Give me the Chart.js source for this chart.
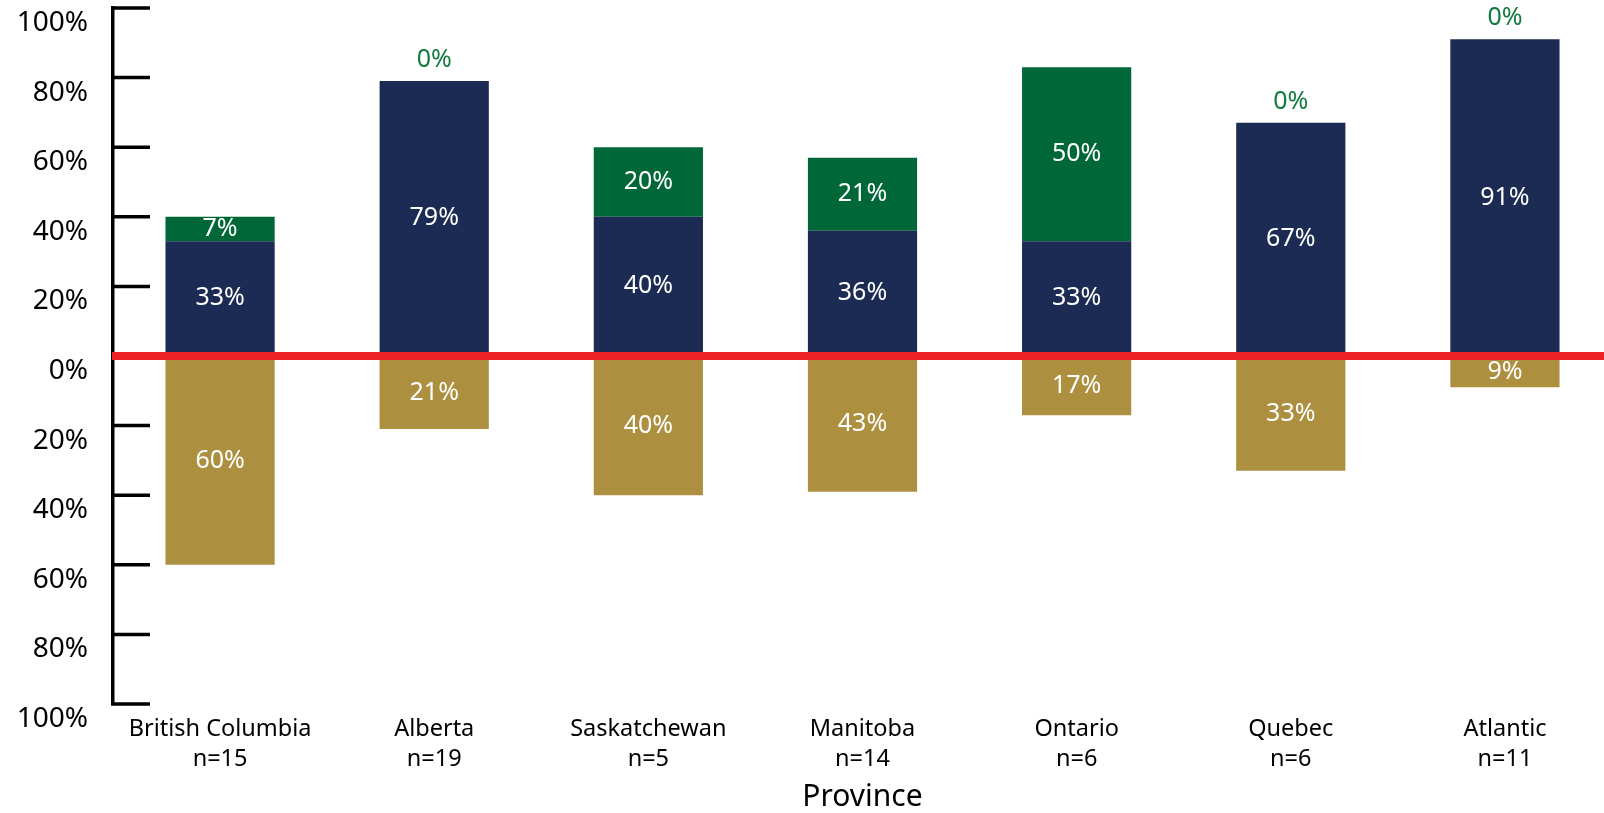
<!DOCTYPE html>
<html>
<head>
<meta charset="utf-8">
<script src="https://cdn.jsdelivr.net/npm/chart.js@4.4.0/dist/chart.umd.min.js"></script>
<style>
  html, body { margin: 0; padding: 0; background: #fff; overflow: hidden; }
  #wrap { width: 1604px; height: 813px; overflow: hidden; position: relative; }
  #box { width: 1612px; height: 813px; }
</style>
</head>
<body>
<div id="wrap"><div id="box"><canvas id="chart"></canvas></div></div>
<script>
  // Provincias y tamaño de muestra
  const provincias = ['British Columbia', 'Alberta', 'Saskatchewan', 'Manitoba', 'Ontario', 'Quebec', 'Atlantic'];
  const muestras = ['n=15', 'n=19', 'n=5', 'n=14', 'n=6', 'n=6', 'n=11'];

  // Valores de cada serie (en %)
  const azul = [33, 79, 40, 36, 33, 67, 91];
  const verde = [7, 0, 20, 21, 50, 0, 0];
  const dorado = [-60, -21, -40, -39, -17, -33, -9];
  const doradoTexto = ['60%', '21%', '40%', '43%', '17%', '33%', '9%'];

  const ticksY = [-100, -80, -60, -40, -20, 0, 20, 40, 60, 80, 100];

  const colorAzul = '#1b2b53';
  const colorVerde = '#006838';
  const colorDorado = '#ad8f40';

  // Etiquetas dentro de las barras
  const etiquetas = {
    id: 'etiquetas',
    afterDatasetsDraw(chart) {
      const ctx = chart.ctx;
      ctx.save();
      ctx.textAlign = 'center';
      ctx.textBaseline = 'middle';
      ctx.font = '25px "Noto Sans"';
      chart.data.datasets.forEach((ds, i) => {
        const meta = chart.getDatasetMeta(i);
        meta.data.forEach((bar, j) => {
          const v = ds.data[j];
          let texto = ds.textos ? ds.textos[j] : Math.abs(v) + '%';
          if (v === 0) {
            ctx.fillStyle = '#127a3e';
            ctx.fillText(texto, bar.x, bar.y - 21);
          } else {
            ctx.fillStyle = '#ffffff';
            ctx.fillText(texto, bar.x, (bar.y + bar.base) / 2);
          }
        });
      });
      ctx.restore();
    }
  };

  // Línea roja en cero y marcas del eje hacia dentro
  const ejes = {
    id: 'ejes',
    afterDatasetsDraw(chart) {
      const ctx = chart.ctx;
      const y = chart.scales.y;
      const area = chart.chartArea;
      ctx.save();
      ctx.strokeStyle = '#000';
      ctx.lineWidth = 3.5;
      y.ticks.forEach((t, i) => {
        if (t.value === 0) return;
        const py = y.getPixelForTick(i);
        ctx.beginPath();
        ctx.moveTo(area.left - 2, py);
        ctx.lineTo(area.left + 37, py);
        ctx.stroke();
      });
      const y0 = y.getPixelForValue(0);
      ctx.strokeStyle = '#ed2227';
      ctx.lineWidth = 8;
      ctx.beginPath();
      ctx.moveTo(area.left - 1, y0);
      ctx.lineTo(chart.width, y0);
      ctx.stroke();
      ctx.restore();
    }
  };

  const ctx = document.getElementById('chart').getContext('2d');
  new Chart(ctx, {
    type: 'bar',
    data: {
      labels: provincias.map((p, i) => [p, muestras[i]]),
      datasets: [
        { label: 'azul', data: azul, backgroundColor: colorAzul },
        { label: 'verde', data: verde, backgroundColor: colorVerde },
        { label: 'dorado', data: dorado, backgroundColor: colorDorado, textos: doradoTexto }
      ]
    },
    options: {
      responsive: true,
      maintainAspectRatio: false,
      animation: false,
      events: [],
      layout: { padding: { top: 8, left: 0, right: 0, bottom: 0 } },
      categoryPercentage: 1,
      barPercentage: 0.51,
      plugins: { legend: { display: false }, tooltip: { enabled: false } },
      scales: {
        x: {
          stacked: true,
          grid: { display: false, drawTicks: false },
          border: { display: false },
          ticks: {
            color: '#000',
            font: { family: 'Noto Sans', size: 23.5, lineHeight: 1.28 },
            padding: 10,
            maxRotation: 0
          },
          title: {
            display: true,
            text: 'Province',
            color: '#000',
            font: { family: 'Noto Sans', size: 30, lineHeight: 1.0 },
            padding: { top: 0, bottom: 1 }
          },
          afterFit(s) { s.height = 109; s.paddingLeft = 0; s.paddingRight = 0; }
        },
        y: {
          stacked: true,
          min: -100,
          max: 100,
          afterBuildTicks(s) { s.ticks = ticksY.map(v => ({ value: v })); },
          grid: { drawOnChartArea: false, drawTicks: false },
          border: { display: true, color: '#000', width: 3.5 },
          ticks: {
            color: '#000',
            font: { family: 'Noto Sans', size: 28 },
            padding: 25,
            labelOffset: 15,
            callback: v => Math.abs(v) + '%'
          },
          afterFit(s) { s.width = 113; s.paddingTop = 0; s.paddingBottom = 0; }
        }
      }
    },
    plugins: [etiquetas, ejes]
  });
</script>
</body>
</html>
